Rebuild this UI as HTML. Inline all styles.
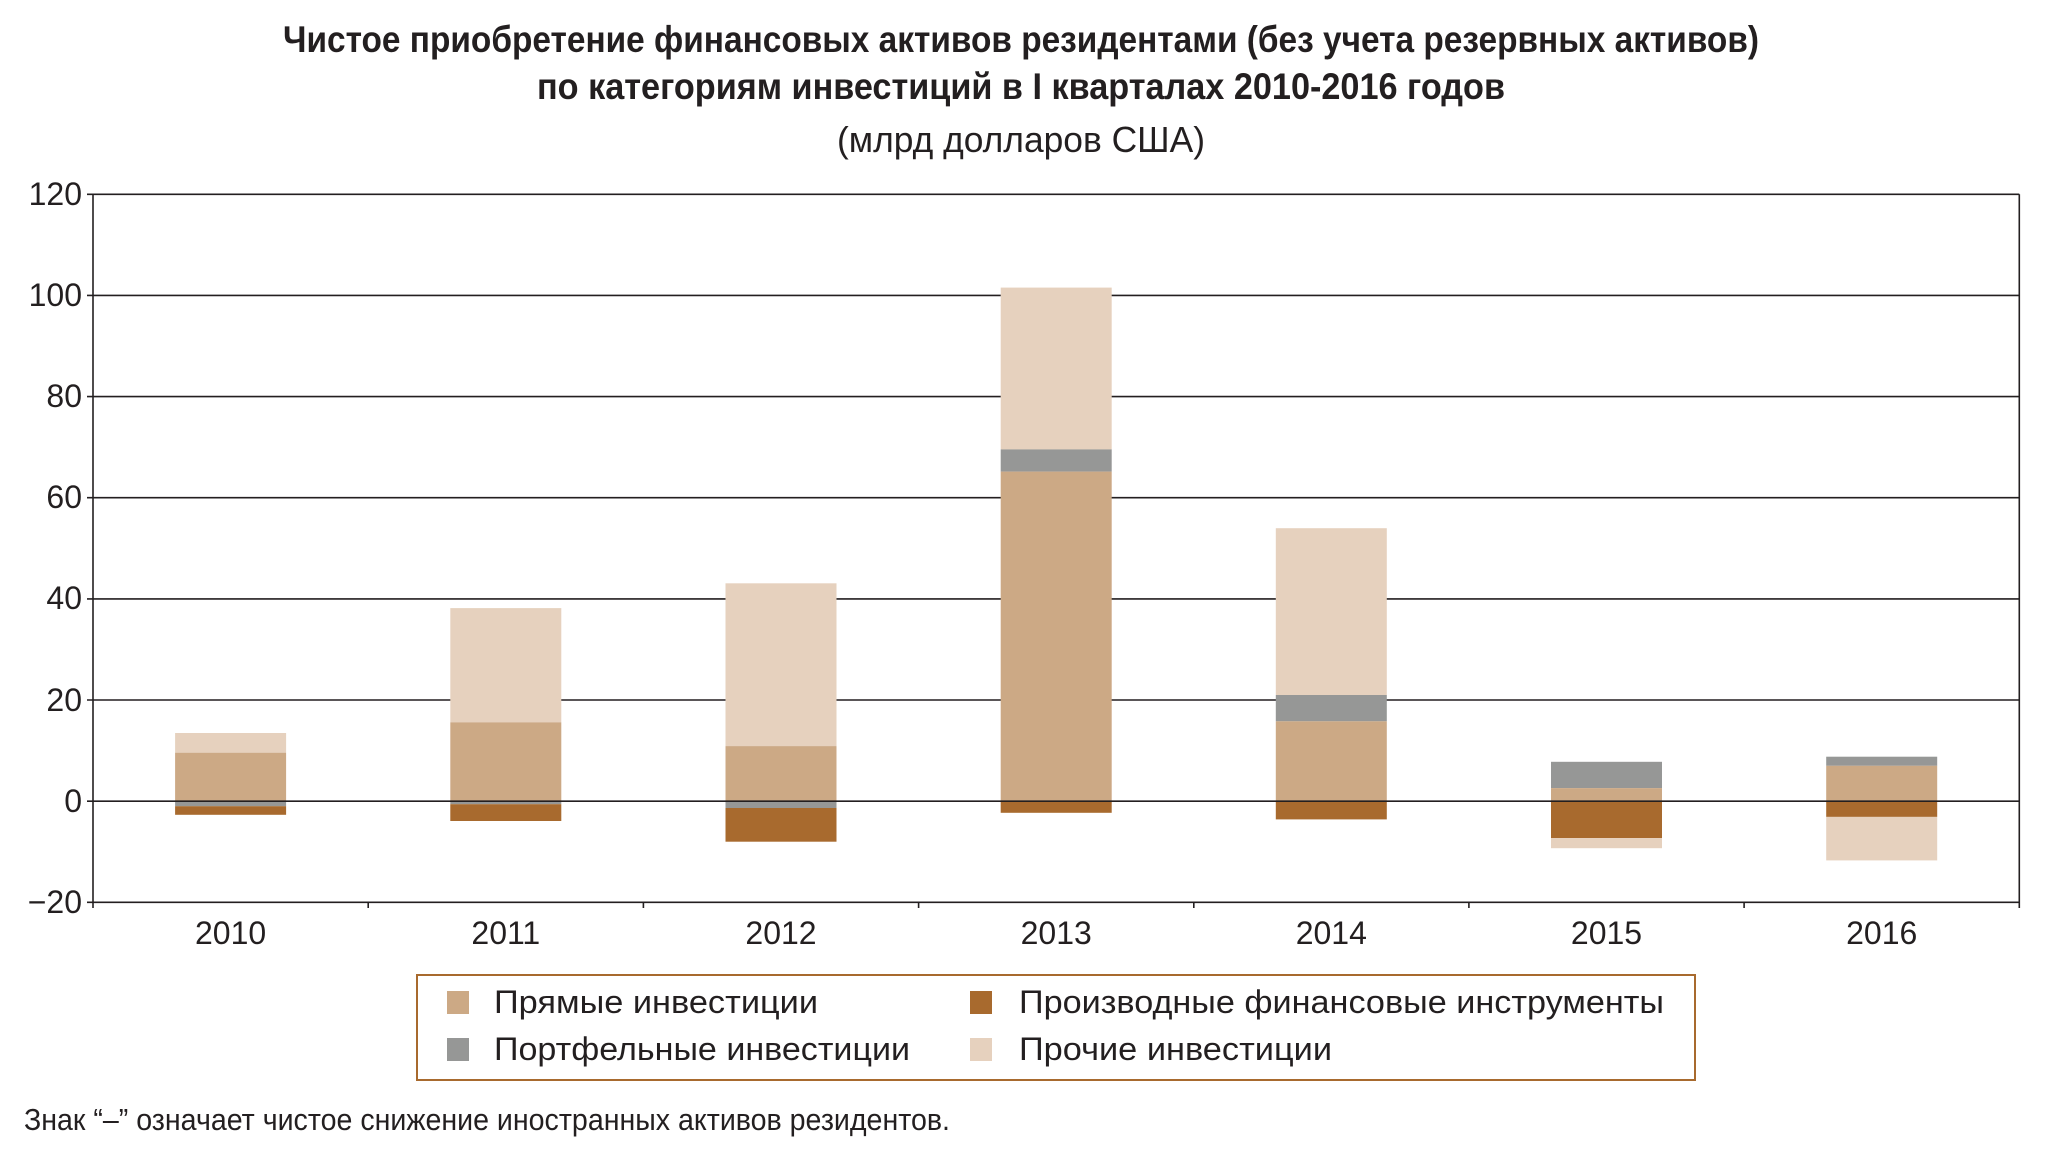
<!DOCTYPE html>
<html><head><meta charset="utf-8"><style>html,body{margin:0;padding:0;background:#fff}svg{display:block}</style></head>
<body>
<svg width="2062" height="1166" viewBox="0 0 2062 1166" xmlns="http://www.w3.org/2000/svg">
<g font-family="'Liberation Sans Narrow','Liberation Sans',sans-serif" fill="#231f20" text-anchor="start">
<text x="283" y="52" font-size="37" font-weight="bold" textLength="1476" lengthAdjust="spacingAndGlyphs">Чистое приобретение финансовых активов резидентами (без учета резервных активов)</text>
<text x="537" y="99" font-size="37" font-weight="bold" textLength="968" lengthAdjust="spacingAndGlyphs">по категориям инвестиций в I кварталах 2010-2016 годов</text>
<text x="837" y="152" font-size="36" textLength="368" lengthAdjust="spacingAndGlyphs">(млрд долларов США)</text>
</g>
<g stroke="#231f20" stroke-width="1.6">
<line x1="87" y1="194.3" x2="2019.3" y2="194.3"/>
<line x1="87" y1="295.4" x2="2019.3" y2="295.4"/>
<line x1="87" y1="396.6" x2="2019.3" y2="396.6"/>
<line x1="87" y1="497.7" x2="2019.3" y2="497.7"/>
<line x1="87" y1="598.9" x2="2019.3" y2="598.9"/>
<line x1="87" y1="700" x2="2019.3" y2="700"/>
<line x1="87" y1="902.3" x2="2019.3" y2="902.3"/>
<line x1="93" y1="194.3" x2="93" y2="908"/>
<line x1="2019.3" y1="194.3" x2="2019.3" y2="908"/>
<line x1="368.2" y1="902.3" x2="368.2" y2="908"/>
<line x1="643.4" y1="902.3" x2="643.4" y2="908"/>
<line x1="918.6" y1="902.3" x2="918.6" y2="908"/>
<line x1="1193.8" y1="902.3" x2="1193.8" y2="908"/>
<line x1="1468.9" y1="902.3" x2="1468.9" y2="908"/>
<line x1="1744.1" y1="902.3" x2="1744.1" y2="908"/>
</g>
<g>
<rect x="175.1" y="733" width="111" height="19.7" fill="#e6d1be"/>
<rect x="175.1" y="752.7" width="111" height="48.5" fill="#cca985"/>
<rect x="175.1" y="801.2" width="111" height="5" fill="#969796"/>
<rect x="175.1" y="806.2" width="111" height="8.6" fill="#a86a2e"/>
<rect x="450.3" y="608.1" width="111" height="114.2" fill="#e6d1be"/>
<rect x="450.3" y="722.3" width="111" height="78.9" fill="#cca985"/>
<rect x="450.3" y="801.2" width="111" height="3" fill="#969796"/>
<rect x="450.3" y="804.2" width="111" height="16.8" fill="#a86a2e"/>
<rect x="725.5" y="583.3" width="111" height="162.8" fill="#e6d1be"/>
<rect x="725.5" y="746.1" width="111" height="55.1" fill="#cca985"/>
<rect x="725.5" y="801.2" width="111" height="6.8" fill="#969796"/>
<rect x="725.5" y="808" width="111" height="33.7" fill="#a86a2e"/>
<rect x="1000.7" y="287.6" width="111" height="161.8" fill="#e6d1be"/>
<rect x="1000.7" y="449.4" width="111" height="22.2" fill="#969796"/>
<rect x="1000.7" y="471.6" width="111" height="329.6" fill="#cca985"/>
<rect x="1000.7" y="801.2" width="111" height="11.6" fill="#a86a2e"/>
<rect x="1275.8" y="528.2" width="111" height="166.8" fill="#e6d1be"/>
<rect x="1275.8" y="695" width="111" height="26.3" fill="#969796"/>
<rect x="1275.8" y="721.3" width="111" height="79.9" fill="#cca985"/>
<rect x="1275.8" y="801.2" width="111" height="18.2" fill="#a86a2e"/>
<rect x="1551" y="761.8" width="111" height="26.3" fill="#969796"/>
<rect x="1551" y="788.1" width="111" height="13.1" fill="#cca985"/>
<rect x="1551" y="801.2" width="111" height="36.9" fill="#a86a2e"/>
<rect x="1551" y="838.1" width="111" height="10.1" fill="#e6d1be"/>
<rect x="1826.2" y="756.7" width="111" height="9.1" fill="#969796"/>
<rect x="1826.2" y="765.8" width="111" height="35.4" fill="#cca985"/>
<rect x="1826.2" y="801.2" width="111" height="15.7" fill="#a86a2e"/>
<rect x="1826.2" y="816.9" width="111" height="43.5" fill="#e6d1be"/>
</g>
<line x1="87" y1="801.2" x2="2019.3" y2="801.2" stroke="#231f20" stroke-width="1.6"/>
<g font-family="'Liberation Sans',sans-serif" font-size="32" fill="#231f20" text-anchor="end">
<text x="82" y="205">120</text>
<text x="82" y="306">100</text>
<text x="82" y="407">80</text>
<text x="82" y="508">60</text>
<text x="82" y="609">40</text>
<text x="82" y="711">20</text>
<text x="82" y="812">0</text>
<text x="82" y="913">−20</text>
</g>
<g font-family="'Liberation Sans',sans-serif" font-size="32" fill="#231f20" text-anchor="middle">
<text x="230.6" y="944">2010</text>
<text x="505.8" y="944">2011</text>
<text x="781" y="944">2012</text>
<text x="1056.2" y="944">2013</text>
<text x="1331.3" y="944">2014</text>
<text x="1606.5" y="944">2015</text>
<text x="1881.7" y="944">2016</text>
</g>
<rect x="417" y="975" width="1278" height="105" fill="none" stroke="#a86a2e" stroke-width="2"/>
<rect x="447" y="991" width="22" height="23" fill="#cca985"/>
<rect x="447" y="1038" width="22" height="23" fill="#969796"/>
<rect x="970" y="991" width="22" height="23" fill="#a86a2e"/>
<rect x="970" y="1038" width="22" height="23" fill="#e6d1be"/>
<g font-family="'Liberation Sans',sans-serif" font-size="32" fill="#231f20">
<text x="494" y="1013" textLength="324" lengthAdjust="spacingAndGlyphs">Прямые инвестиции</text>
<text x="494" y="1060" textLength="416" lengthAdjust="spacingAndGlyphs">Портфельные инвестиции</text>
<text x="1019" y="1013" textLength="645" lengthAdjust="spacingAndGlyphs">Производные финансовые инструменты</text>
<text x="1019" y="1060" textLength="313" lengthAdjust="spacingAndGlyphs">Прочие инвестиции</text>
</g>
<text x="24" y="1130" font-family="'Liberation Sans Narrow','Liberation Sans',sans-serif" font-size="31" fill="#231f20" textLength="926" lengthAdjust="spacingAndGlyphs">Знак “–” означает чистое снижение иностранных активов резидентов.</text>
</svg>
</body></html>
